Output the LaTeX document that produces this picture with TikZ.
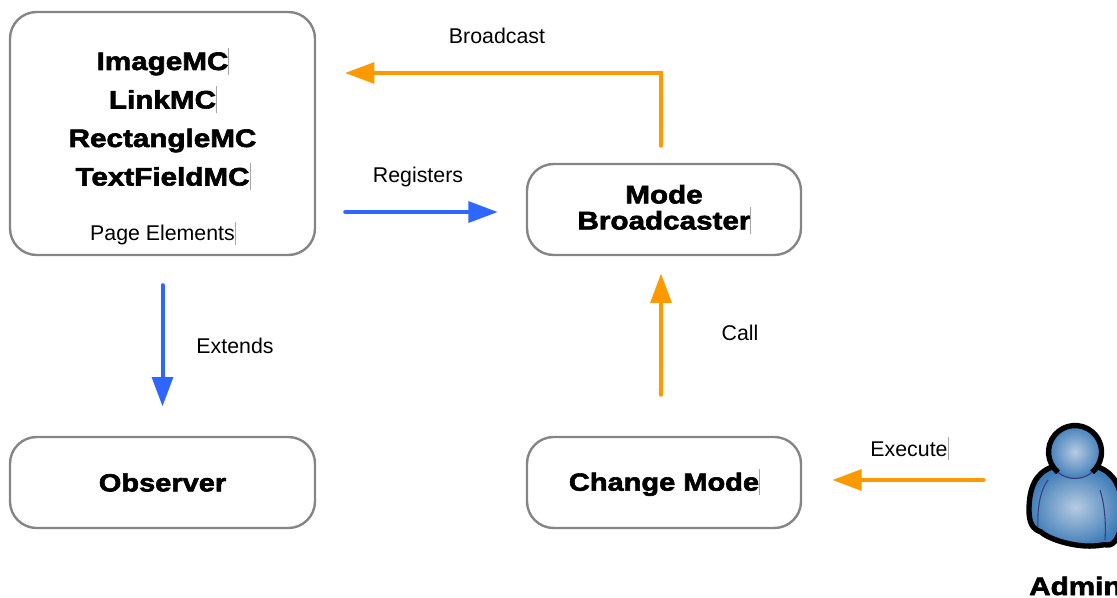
\documentclass[tikz,border=0pt]{standalone}
\usepackage{xcolor}
\usepackage{fontspec}
\usepackage{tikz}
\usetikzlibrary{arrows.meta}
\setmainfont{Liberation Sans}
\newfontfamily\blackfont[FakeBold=2.4,FakeStretch=1.17]{Liberation Sans Bold}
\definecolor{boxgray}{HTML}{858585}
\definecolor{regblue}{HTML}{2F66FF}
\definecolor{callorange}{HTML}{FF9900}
\definecolor{adminlight}{HTML}{B7CBE2}
\definecolor{admindark}{HTML}{3F7DB8}
\definecolor{adminline}{HTML}{3B3A86}
\newcommand{\caretmark}{\rlap{\color{black!35}\rule[-.18em]{.35pt}{1.05em}}}
\tikzset{
  modebox/.style={draw=boxgray,line width=1.8pt,rounded corners=20pt,align=center,inner sep=0pt,
    font=\blackfont\fontsize{19}{19.5}\selectfont},
  smallbox/.style={modebox,font=\blackfont\fontsize{18.6}{19.5}\selectfont},
  heavytext/.style={anchor=base,inner sep=0pt,font=\blackfont\fontsize{19}{19}\selectfont},
  plaintext/.style={anchor=base,inner sep=0pt,font=\fontsize{16}{16}\selectfont},
  flow/.style={line width=3pt,line cap=round,-{Triangle[length=22pt,width=15.5pt]}},
  adminshade/.style={inner color=adminlight,outer color=admindark},
  adminthin/.style={color=adminline,line width=0.8pt}
}
\begin{document}
\begin{tikzpicture}[x=0.75pt,y=0.75pt,yscale=-1,xscale=1]
        \useasboundingbox (0,0) rectangle (1117,598);
        \clip (0,0) rectangle (1117,598);

        \node (elements) [modebox,minimum width=228.75pt,minimum height=182.25pt] at (162.5,133.5) {};
        \node (observer) [smallbox,minimum width=228.75pt,minimum height=68.25pt] at (162.5,482.5) {Observer};
        \node (broadcaster) [modebox,minimum width=205.5pt,minimum height=68.25pt] at (664,209.5) {Mode\\Broadcaster\caretmark};
        \node (changemode) [smallbox,minimum width=205.5pt,minimum height=68.25pt] at (664,482.5) {\raisebox{1.6pt}{Change Mode\caretmark}};

        \node (imagemc) [heavytext] at (162.5,70) {ImageMC\caretmark};
        \node (linkmc) [heavytext] at (162.5,108.5) {LinkMC\caretmark};
        \node (rectanglemc) [heavytext] at (162.5,147) {RectangleMC};
        \node (textfieldmc) [heavytext] at (162.5,185.5) {TextFieldMC\caretmark};
        \node (pageelements) [plaintext] at (162.5,241) {Page Elements\caretmark};

        \node (broadcastlabel) [plaintext] at (497,44) {Broadcast};
        \node (registerslabel) [plaintext] at (418,183) {Registers};
        \node (extendslabel) [plaintext] at (235,353.5) {Extends};
        \node (calllabel) [plaintext] at (740,341) {Call};
        \node (executelabel) [plaintext] at (909,456) {Execute\caretmark};
        \node (adminlabel) [heavytext,anchor=base west] at (1029,595) {Admin};

        \coordinate (broadcastend) at (345,73);
        \coordinate (adminhand) at (983.5,480);

        \draw [flow,color=callorange,shorten <=12.75pt] ([xshift=-2.25pt]broadcaster.north) |- (broadcastend);
        \draw [flow,color=regblue,shorten <=21.75pt,shorten >=21pt] ([yshift=1.9pt]elements.east |- broadcaster) -- ([yshift=1.9pt]broadcaster.west);
        \draw [flow,color=regblue,shorten <=21.75pt,shorten >=22pt] (elements) -- (observer);
        \draw [flow,color=callorange,shorten <=30.75pt,shorten >=13pt] ([xshift=-2.25pt]changemode.north) -- ([xshift=-2.25pt]broadcaster.south);
        \draw [flow,color=callorange,shorten >=22.5pt] (adminhand) -- (adminhand -| changemode.east);

        \shadedraw [adminshade,draw=black,line width=4pt,line join=round]
          (1052,467) .. controls (1036,473) and (1029,487) .. (1029,510)
          .. controls (1029,522) and (1032,529) .. (1041,532)
          .. controls (1050,540) and (1075,547) .. (1093,546)
          .. controls (1100,546) and (1104,544) .. (1107,545)
          .. controls (1115,546) and (1122,535) .. (1122,510)
          .. controls (1122,487) and (1114,473) .. (1098,467) -- cycle;
        \draw [adminthin] (1048,480) .. controls (1040,490) and (1037,510) .. (1038,527);
        \draw [adminthin] (1100,490) .. controls (1105,505) and (1106,525) .. (1105,540);
        \shade [adminshade] (1075,452) circle [radius=27];
        \draw [draw=black,line width=4pt] (1058,472.3) arc [start angle=130,end angle=410,radius=26.5];
        \draw [adminthin] (1092,472.3) arc [start angle=50,end angle=130,radius=26.5];
\end{tikzpicture}
\end{document}
